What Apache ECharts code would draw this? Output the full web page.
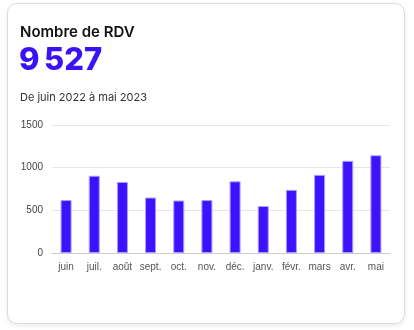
<!DOCTYPE html>
<html>
<head>
<meta charset="utf-8">
<script src="https://cdn.jsdelivr.net/npm/echarts@6/dist/echarts.min.js"></script>
<style>
  html, body { margin: 0; padding: 0; background: #ffffff; }
  #card {
    position: absolute; left: 7px; top: 3px; width: 396px; height: 319px;
    border: 1px solid #dcdcdc; border-radius: 10px;
    box-shadow: 0 2px 4px rgba(0,0,0,0.08); background: #fff;
  }
  #chart { position: absolute; left: 0; top: 0; width: 414px; height: 330px; }
</style>
</head>
<body>
<div id="card"></div>
<div id="chart"></div>
<script>
const categories = ['juin', 'juil.', 'août', 'sept.', 'oct.', 'nov.', 'déc.', 'janv.', 'févr.', 'mars', 'avr.', 'mai'];
const rdvValues = [620, 905, 832, 650, 615, 620, 840, 550, 740, 915, 1080, 1145];
const totalLabel = '9\u202f527';
const titleText = 'Nombre de RDV';
const periodText = 'De juin 2022 à mai 2023';
const yTicks = [0, 500, 1000, 1500];

const chart = echarts.init(document.getElementById('chart'), null, { renderer: 'canvas' });
chart.setOption({
  animation: false,
  title: [
    { text: titleText, left: 20, top: 25, padding: 0,
      textStyle: { fontFamily: 'Inter', fontSize: 15, fontWeight: 600, color: '#111111' } },
    { text: totalLabel, left: 19, top: 45, padding: 0,
      textStyle: { fontFamily: 'Inter', fontSize: 31, fontWeight: 800, color: '#3a12f5' } },
    { text: periodText, left: 20, top: 92, padding: 0,
      textStyle: { fontFamily: 'Inter', fontSize: 11, fontWeight: 400, color: '#333333' } }
  ],
  grid: { left: 52, right: 24, top: 125, bottom: 77, containLabel: false },
  xAxis: {
    type: 'category',
    data: categories,
    axisTick: { show: false },
    axisLine: { lineStyle: { color: '#cccccc' } },
    axisLabel: { interval: 0, color: '#555555', fontSize: 10, fontFamily: 'Liberation Sans', margin: 9 }
  },
  yAxis: {
    type: 'value',
    min: yTicks[0], max: yTicks[yTicks.length - 1], interval: 500,
    axisLine: { show: false },
    axisTick: { show: false },
    splitLine: { lineStyle: { color: '#e6e6e6' } },
    axisLabel: { color: '#444444', fontSize: 10, fontFamily: 'Liberation Sans', margin: 9,
      formatter: function (v) { return String(v); } }
  },
  series: [{
    type: 'bar',
    data: rdvValues,
    barWidth: 11,
    itemStyle: { color: '#3c12ff', borderColor: '#a89bff', borderWidth: 1 }
  }]
});
</script>
</body>
</html>
